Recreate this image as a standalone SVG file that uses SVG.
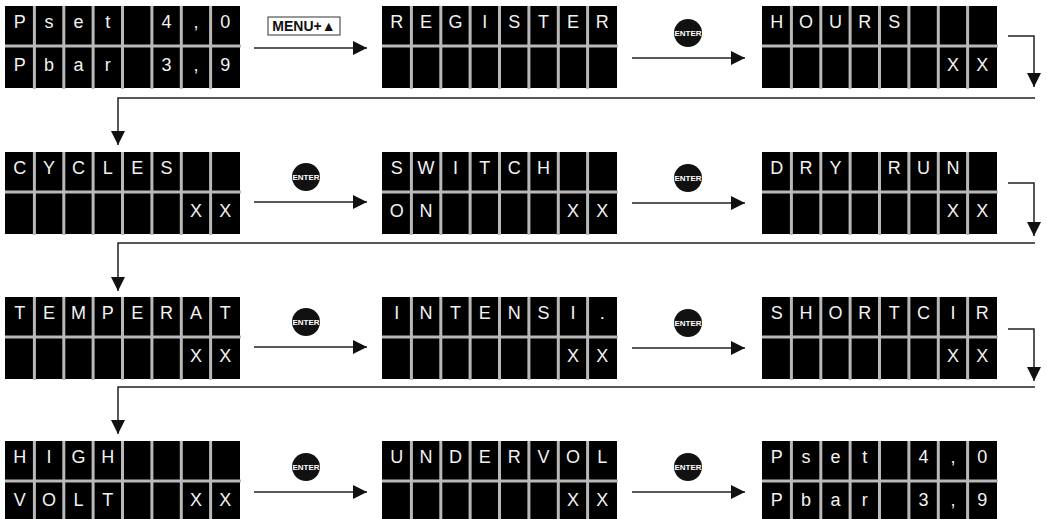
<svg xmlns="http://www.w3.org/2000/svg" xmlns:xlink="http://www.w3.org/1999/xlink" width="1047" height="519" viewBox="0 0 1047 519">
<style>
.lcdt{font-family:"Liberation Sans",Arial,sans-serif;font-size:18px;fill:#f2f2f2;text-anchor:middle}
.conn{fill:none;stroke:#222;stroke-width:1.5;marker-end:url(#ah)}
.btn{fill:#111}
.btnt{font-family:"Liberation Sans",Arial,sans-serif;font-weight:bold;font-size:8px;fill:#fff;text-anchor:middle}
.menu{fill:#fff;stroke:#333;stroke-width:1}
.menut{font-family:"Liberation Sans",Arial,sans-serif;font-weight:bold;font-size:14px;fill:#111;text-anchor:middle}
</style>
<defs>
<marker id="ah" markerUnits="userSpaceOnUse" markerWidth="14" markerHeight="14" refX="14" refY="7" orient="auto">
<path d="M0,0 L14,7 L0,14 z" fill="#111"/>
</marker>
<g id="lcd">
<rect x="0" y="0" width="235" height="82" fill="#000"/>
<g fill="#b9b9b9">
<rect x="27.9" y="0" width="3" height="83"/>
<rect x="57.3" y="0" width="3" height="83"/>
<rect x="86.6" y="0" width="3" height="83"/>
<rect x="116" y="0" width="3" height="83"/>
<rect x="145.4" y="0" width="3" height="83"/>
<rect x="174.8" y="0" width="3" height="83"/>
<rect x="204.1" y="0" width="3" height="83"/>
<rect x="0" y="38.5" width="236" height="3"/>
</g>
</g>
</defs>
<rect width="1047" height="519" fill="#fff"/>

<g id="connectors">
<path class="conn" d="M254,48 H367"/>
<path class="conn" d="M632,58 H745"/>
<path class="conn" d="M254,202 H367"/>
<path class="conn" d="M632,203 H745"/>
<path class="conn" d="M254,347 H367"/>
<path class="conn" d="M632,348 H745"/>
<path class="conn" d="M254,492 H367"/>
<path class="conn" d="M632,492 H745"/>
<path class="conn" d="M1008,36 H1034 V87"/>
<path class="conn" d="M1008,183 H1034 V236"/>
<path class="conn" d="M1008,329 H1034 V381"/>
<path class="conn" d="M1035,98 H118 V145"/>
<path class="conn" d="M1035,243 H118 V291"/>
<path class="conn" d="M1035,387 H118 V434"/>
</g>

<g id="labels">
<g id="menu-key"><rect class="menu" x="268" y="17" width="72" height="18"/><text class="menut" x="304" y="31">MENU+▲</text></g>
<g id="enter1"><circle class="btn" cx="688" cy="33" r="14"/><text class="btnt" x="688" y="36">ENTER</text></g>
<g id="enter2"><circle class="btn" cx="306" cy="177" r="14"/><text class="btnt" x="306" y="180">ENTER</text></g>
<g id="enter3"><circle class="btn" cx="688" cy="178" r="14"/><text class="btnt" x="688" y="181">ENTER</text></g>
<g id="enter4"><circle class="btn" cx="306" cy="322" r="14"/><text class="btnt" x="306" y="325">ENTER</text></g>
<g id="enter5"><circle class="btn" cx="688" cy="323" r="14"/><text class="btnt" x="688" y="326">ENTER</text></g>
<g id="enter6"><circle class="btn" cx="306" cy="467" r="14"/><text class="btnt" x="306" y="470">ENTER</text></g>
<g id="enter7"><circle class="btn" cx="688" cy="467" r="14"/><text class="btnt" x="688" y="470">ENTER</text></g>
</g>

<g id="n-pset1">
<use xlink:href="#lcd" x="5" y="6"/>
<text class="lcdt" x="19.7 49.1 78.4 107.8 166.6 195.9 225.3" y="28">Pset4,0</text>
<text class="lcdt" x="19.7 49.1 78.4 107.8 166.6 195.9 225.3" y="71">Pbar3,9</text>
</g>
<g id="n-register">
<use xlink:href="#lcd" x="382" y="6"/>
<text class="lcdt" x="396.7 426.1 455.4 484.8 514.2 543.6 572.9 602.3" y="28">REGISTER</text>
</g>
<g id="n-hours">
<use xlink:href="#lcd" x="762" y="6"/>
<text class="lcdt" x="776.7 806.1 835.4 864.8 894.2" y="28">HOURS</text>
<text class="lcdt" x="952.9 982.3" y="71">XX</text>
</g>

<g id="n-cycles">
<use xlink:href="#lcd" x="5" y="152"/>
<text class="lcdt" x="19.7 49.1 78.4 107.8 137.2 166.6" y="174">CYCLES</text>
<text class="lcdt" x="195.9 225.3" y="217">XX</text>
</g>
<g id="n-switch">
<use xlink:href="#lcd" x="382" y="152"/>
<text class="lcdt" x="396.7 426.1 455.4 484.8 514.2 543.6" y="174">SWITCH</text>
<text class="lcdt" x="396.7 426.1 572.9 602.3" y="217">ONXX</text>
</g>
<g id="n-dryrun">
<use xlink:href="#lcd" x="762" y="152"/>
<text class="lcdt" x="776.7 806.1 835.4 894.2 923.6 952.9" y="174">DRYRUN</text>
<text class="lcdt" x="952.9 982.3" y="217">XX</text>
</g>

<g id="n-temperat">
<use xlink:href="#lcd" x="5" y="297"/>
<text class="lcdt" x="19.7 49.1 78.4 107.8 137.2 166.6 195.9 225.3" y="319">TEMPERAT</text>
<text class="lcdt" x="195.9 225.3" y="362">XX</text>
</g>
<g id="n-intensi">
<use xlink:href="#lcd" x="382" y="297"/>
<text class="lcdt" x="396.7 426.1 455.4 484.8 514.2 543.6 572.9 602.3" y="319">INTENSI.</text>
<text class="lcdt" x="572.9 602.3" y="362">XX</text>
</g>
<g id="n-shortcir">
<use xlink:href="#lcd" x="762" y="297"/>
<text class="lcdt" x="776.7 806.1 835.4 864.8 894.2 923.6 952.9 982.3" y="319">SHORTCIR</text>
<text class="lcdt" x="952.9 982.3" y="362">XX</text>
</g>

<g id="n-highvolt">
<use xlink:href="#lcd" x="5" y="441"/>
<text class="lcdt" x="19.7 49.1 78.4 107.8" y="463">HIGH</text>
<text class="lcdt" x="19.7 49.1 78.4 107.8 195.9 225.3" y="506">VOLTXX</text>
</g>
<g id="n-undervol">
<use xlink:href="#lcd" x="382" y="441"/>
<text class="lcdt" x="396.7 426.1 455.4 484.8 514.2 543.6 572.9 602.3" y="463">UNDERVOL</text>
<text class="lcdt" x="572.9 602.3" y="506">XX</text>
</g>
<g id="n-pset2">
<use xlink:href="#lcd" x="762" y="441"/>
<text class="lcdt" x="776.7 806.1 835.4 864.8 923.6 952.9 982.3" y="463">Pset4,0</text>
<text class="lcdt" x="776.7 806.1 835.4 864.8 923.6 952.9 982.3" y="506">Pbar3,9</text>
</g>
</svg>
